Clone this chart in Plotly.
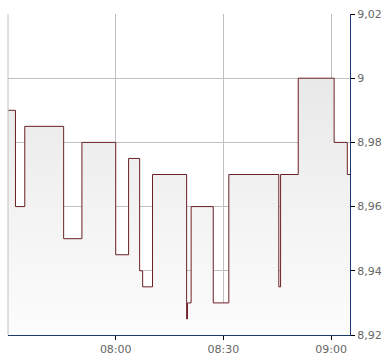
import plotly.graph_objects as go

day = "2024-01-15 "
times = ["07:30:00", "07:32:05", "07:34:40", "07:45:30", "07:50:35", "08:00:00",
         "08:03:35", "08:06:40", "08:07:30", "08:10:15", "08:19:45", "08:20:00",
         "08:21:00", "08:27:10", "08:31:30", "08:45:25", "08:45:55", "08:50:50",
         "09:00:50", "09:04:30", "09:05:15"]
prices = [8.99, 8.96, 8.985, 8.95, 8.98, 8.945,
          8.975, 8.94, 8.935, 8.97, 8.925, 8.93,
          8.96, 8.93, 8.97, 8.935, 8.97, 9.0,
          8.98, 8.97, 8.97]

y_ticks = [8.92, 8.94, 8.96, 8.98, 9.0, 9.02]
y_ticktext = ["8,92", "8,94", "8,96", "8,98", "9", "9,02"]
x_ticks = ["08:00", "08:30", "09:00"]

x = [day + t for t in times]

fig = go.Figure()
fig.add_trace(go.Scatter(
    x=x, y=prices, mode="lines", line_shape="hv",
    line=dict(color="#6b1f26", width=1),
    fill="tozeroy",
    fillgradient=dict(type="vertical", start=8.92, stop=9.0,
                      colorscale=[[0, "#fdfdfd"], [1, "#e9e9e9"]]),
    hoverinfo="skip",
))

font = dict(family="DejaVu Sans", size=11, color="#666666")
fig.update_layout(
    width=390, height=364,
    margin=dict(l=8, r=38, t=11, b=24),
    paper_bgcolor="white", plot_bgcolor="white",
    showlegend=False,
    font=font,
    xaxis=dict(
        range=[day + "07:30:00", day + "09:05:15"],
        tickvals=[day + t for t in x_ticks], ticktext=x_ticks,
        showgrid=True, gridcolor="#c0c0c0", gridwidth=1,
        showline=True, linecolor="#1c3a6b", linewidth=1,
        ticks="outside", ticklen=4, tickcolor="#000000",
        zeroline=False, tickfont=font,
    ),
    yaxis=dict(
        side="right", range=[8.92, 9.02],
        tickvals=y_ticks, ticktext=y_ticktext,
        showgrid=True, gridcolor="#c0c0c0", gridwidth=1,
        showline=True, linecolor="#1c3a6b", linewidth=1,
        ticks="outside", ticklen=4, tickcolor="#000000",
        zeroline=False, tickfont=font,
    ),
    shapes=[dict(type="line", xref="paper", yref="paper", x0=0, x1=0, y0=0, y1=1,
                 line=dict(color="#c0c0c0", width=1))],
)

fig.write_html("out.html")
